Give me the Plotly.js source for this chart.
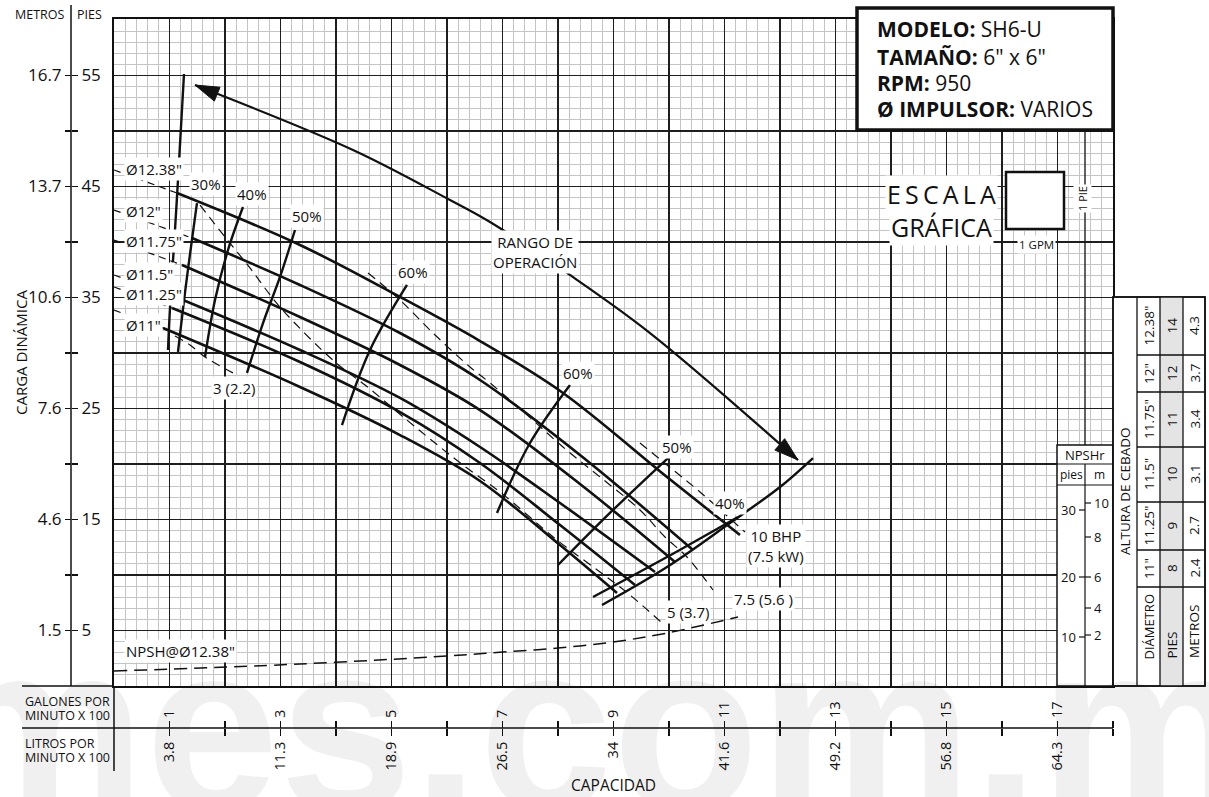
<!DOCTYPE html>
<html>
<head>
<meta charset="utf-8">
<script src="https://cdn.plot.ly/plotly-3.0.1.min.js"></script>
<style>
html,body{margin:0;padding:0;background:#fff;}
#chart{width:1209px;height:797px;}
</style>
</head>
<body>
<div id="chart"></div>
<script>
// ===== DATA (capacity in hundreds of US GPM, head in feet) =====
const diamLabels = ['Ø12.38"','Ø12"','Ø11.75"','Ø11.5"','Ø11.25"','Ø11"'];
// head-capacity curves (first segment, from shut-off, is dashed)
const q1238 = [0, 1.135, 3.351, 5.153, 6.595, 8.090, 9.964, 11.279];
const h1238 = [46.49, 44.41, 39.73, 35.05, 31.08, 26.40, 18.83, 13.60];
const q1200 = [0, 1.405, 3.351, 5.153, 6.595, 8.396, 10.432];
const h1200 = [42.88, 40.36, 36.13, 31.80, 27.57, 20.81, 12.25];
const q1175 = [0, 1.225, 3.351, 5.153, 6.595, 8.396, 10.108];
const h1175 = [40.18, 37.93, 33.24, 28.92, 24.86, 18.20, 11.17];
const q1150 = [0, 1.243, 3.351, 5.153, 6.595, 8.036, 9.748];
const h1150 = [37.03, 34.77, 30.27, 25.95, 21.53, 16.49, 10.27];
const q1125 = [0, 1.045, 3.351, 5.153, 6.595, 8.036, 9.387];
const h1125 = [35.95, 34.05, 29.19, 24.68, 20.09, 14.50, 9.10];
const q1100 = [0, 0.883, 3.351, 5.153, 6.595, 8.036, 9.063];
const h1100 = [33.87, 32.25, 26.94, 22.61, 18.47, 12.70, 8.38];

// minimum-flow limit line
const minFlowQ = [1.261, 1.153, 1.099, 1.009, 0.973];
const minFlowH = [55.14, 45.59, 41.08, 34.05, 30.27];
// efficiency iso-lines
const eff30Q = [1.495, 1.297, 1.153];           const eff30H = [43.51, 36.13, 30.09];
const eff40aQ = [2.324, 2.054, 1.820, 1.640];   const eff40aH = [43.15, 39.28, 34.77, 29.64];
const eff50aQ = [3.261, 2.991, 2.685, 2.396];   const eff50aH = [41.08, 36.85, 32.70, 28.20];
const eff60aQ = [5.279, 4.613, 4.108];          const eff60aH = [36.13, 30.27, 23.51];
const eff60bQ = [8.216, 7.495, 6.901];          const eff60bH = [27.12, 21.89, 15.59];
const eff50bQ = [9.982, 8.991, 8.0];            const eff50bH = [20.54, 15.86, 10.90];
const eff40bQ = [8.631, 9.964, 11.243];         const eff40bH = [8.02, 11.62, 15.23];
// end-of-curve (right limit of operating range)
const endQ = [8.793, 9.964, 11.099, 12.0, 12.595];
const endH = [7.30, 10.72, 14.68, 17.93, 20.54];
// brake horsepower lines
const bhp3Q = [1.099, 1.369, 1.640, 2.180];
const bhp3H = [31.53, 30.72, 29.64, 28.11];
const bhp5Q = [1.550, 2.0, 2.450, 2.991, 3.982, 4.523, 5.279, 5.874, 6.360, 6.955, 7.982, 8.757, 9.297, 9.874];
const bhp5H = [43.33, 40.45, 37.66, 34.14, 29.19, 27.12, 23.96, 21.53, 19.64, 17.48, 13.15, 10.27, 8.20, 5.68];
const bhp75Q = [4.577, 5.153, 5.748, 6.414, 6.775, 7.405, 8.090, 8.757, 9.477, 9.928, 10.324, 10.793];
const bhp75H = [37.21, 34.77, 31.80, 28.74, 27.30, 24.59, 21.53, 18.83, 15.86, 13.42, 11.62, 8.65];
const bhp10Q = [9.477, 9.964, 10.559, 11.369];
const bhp10H = [21.89, 19.91, 17.48, 13.87];
// NPSH required @ Ø12.38"
const npshQ = [0, 3.351, 6.0, 7.009, 8.0, 8.991, 9.964, 11.243];
const npshH = [1.35, 1.98, 2.70, 3.06, 3.42, 3.96, 4.77, 6.22];
// "rango de operación" arrow path
const rangoQ = [1.459, 4.306, 6.054, 6.775, 8.162, 9.658, 12.324];
const rangoH = [54.14, 48.29, 43.78, 41.80, 37.21, 31.80, 20.36];

// axis tick labels
const gpmTicks = [1,2,3,4,5,6,7,8,9,10,11,12,13,14,15,16,17,18];
const gpmText  = ['1','','3','','5','','7','','9','','11','','13','','15','','17',''];
const lpmText  = ['3.8','','11.3','','18.9','','26.5','','34','','41.6','','49.2','','56.8','','64.3',''];
const headTicks = [5,10,15,20,25,30,35,40,45,50,55];
const metrosText = ['1.5','','4.6','','7.6','','10.6','','13.7','','16.7'];
const piesText   = ['5','','15','','25','','35','','45','','55'];
// priming height table
const tblDiam   = ['12.38"','12"','11.75"','11.5"','11.25"','11"'];
const tblPies   = ['14','12','11','10','9','8'];
const tblMetros = ['4.3','3.7','3.4','3.1','2.7','2.4'];
// NPSHr side scale
const npshrFtTicks = [10,20,30];
const npshrMTicks  = [2,4,6,8,10];
// model box
const modelKeys = ['MODELO:','TAMAÑO:','RPM:','Ø IMPULSOR:'];
const modelVals = ['SH6-U','6" x 6"','950','VARIOS'];

// ===== GEOMETRY / STYLE =====
const W = 1209, H = 797;
const L = 114, R = 1113, T = 19, B = 686;
const XMAX = 18, YMAX = (B - T) / 11.1;
const sx = (R - L) / XMAX, sy = (B - T) / YMAX;
const FONT = 'Open Sans, sans-serif';
const INK = '#111';

const traces = [];
function addLine(q, h, w, dash, shape) {
  traces.push({x: q, y: h, mode: 'lines', hoverinfo: 'skip', showlegend: false,
    line: {color: INK, width: w, dash: dash || 'solid', shape: shape || 'spline', smoothing: 1.0}});
}
[[q1238,h1238],[q1200,h1200],[q1175,h1175],[q1150,h1150],[q1125,h1125],[q1100,h1100]].forEach(([q,h]) => {
  addLine(q.slice(0,2), h.slice(0,2), 1.2, '7px,5px', 'linear');
  addLine(q.slice(1), h.slice(1), 2.6);
});
addLine(minFlowQ, minFlowH, 2.4);
[[eff30Q,eff30H],[eff40aQ,eff40aH],[eff50aQ,eff50aH],[eff60aQ,eff60aH],[eff60bQ,eff60bH],[eff50bQ,eff50bH],[eff40bQ,eff40bH]]
  .forEach(([q,h]) => addLine(q, h, 2.4));
addLine(endQ, endH, 2.4);
[[bhp3Q,bhp3H],[bhp5Q,bhp5H],[bhp75Q,bhp75H],[bhp10Q,bhp10H]].forEach(([q,h]) => addLine(q, h, 1.2, '9px,6px'));
addLine(npshQ, npshH, 1.5, '13px,7px');
addLine(rangoQ, rangoH, 2.2);
// dummy traces so the extra axes are drawn
traces.push({x:[null], y:[null], xaxis:'x2', yaxis:'y', mode:'markers', hoverinfo:'skip', showlegend:false});
traces.push({x:[null], y:[null], xaxis:'x3', yaxis:'y', mode:'markers', hoverinfo:'skip', showlegend:false});
traces.push({x:[null], y:[null], xaxis:'x', yaxis:'y2', mode:'markers', hoverinfo:'skip', showlegend:false});
traces.push({x:[null], y:[null], xaxis:'x', yaxis:'y3', mode:'markers', hoverinfo:'skip', showlegend:false});

// ===== helpers (positions only) =====
const px2pX = px => px / W;
const py2pY = py => 1 - py / H;
function P(text, px, py, o) {
  o = o || {};
  const font = Object.assign({size: 15, family: FONT, color: INK}, o.font || {});
  const a = Object.assign({xref:'paper', yref:'paper', x: px2pX(px), y: py2pY(py), text: text,
    showarrow: false, xanchor: 'center', yanchor: 'middle'}, o);
  a.font = font;
  return a;
}
const WB = {bgcolor: '#fff', borderpad: 1};
function lineP(x0, y0, x1, y1, w, c) {
  return {type:'line', xref:'paper', yref:'paper', x0:px2pX(x0), y0:py2pY(y0), x1:px2pX(x1), y1:py2pY(y1),
    line:{color: c || INK, width: w || 1.5}, layer:'above'};
}
function rectP(x0, y0, x1, y1, fill, w) {
  return {type:'rect', xref:'paper', yref:'paper', x0:px2pX(x0), y0:py2pY(y0), x1:px2pX(x1), y1:py2pY(y1),
    fillcolor: fill, line:{color: INK, width: w === undefined ? 1.5 : w}, layer:'above'};
}
function arrowHead(q0, h0, q1, h1, len, half) {
  const X0 = L + q0*sx, Y0 = B - h0*sy, X1 = L + q1*sx, Y1 = B - h1*sy;
  const d = Math.hypot(X1-X0, Y1-Y0), ux = (X1-X0)/d, uy = (Y1-Y0)/d;
  const bx = X1 - ux*len, by = Y1 - uy*len;
  const pts = [[X1,Y1],[bx - uy*half, by + ux*half],[bx + uy*half, by - ux*half]];
  const path = pts.map((p,i) => (i ? 'L' : 'M') + ((p[0]-L)/sx).toFixed(4) + ',' + ((B-p[1])/sy).toFixed(4)).join(' ') + ' Z';
  return {type:'path', xref:'x', yref:'y', path: path, fillcolor: INK, line:{color: INK, width: 1}, layer:'above'};
}

// ===== SHAPES =====
const shapes = [];
shapes.push(arrowHead(rangoQ[1], rangoH[1], rangoQ[0], rangoH[0], 24, 7.5));
const nR = rangoQ.length;
shapes.push(arrowHead(rangoQ[nR-2], rangoH[nR-2], rangoQ[nR-1], rangoH[nR-1], 24, 7.5));
// left head axis line, bottom capacity frame
shapes.push(lineP(71, 5, 71, 686, 1.5));
shapes.push(lineP(22, 686, 114, 686, 1.5));
shapes.push(lineP(22, 728, 1113, 728, 1.5));
shapes.push(lineP(114, 686, 114, 771, 1.5));
// divider line of the NPSHr column above its block
shapes.push(lineP(1085, 130, 1085, 445, 1.4, '#1e1e1e'));
// NPSHr scale block
shapes.push(rectP(1057, 445, 1113, 686, '#fff', 1.5));
shapes.push(lineP(1057, 464, 1113, 464, 1.2));
shapes.push(lineP(1057, 485, 1113, 485, 1.2));
shapes.push(lineP(1085, 464, 1085, 686, 1.2));
const ftPos = {10: 637, 20: 577, 30: 510};
const mPos  = {2: 635, 4: 608, 6: 577, 8: 537, 10: 503};
npshrFtTicks.forEach(v => shapes.push(lineP(1079, ftPos[v], 1085, ftPos[v], 1.2)));
npshrMTicks.forEach(v => shapes.push(lineP(1085, mPos[v], 1091, mPos[v], 1.2)));
// priming-height table
const colX = [1113, 1137, 1160, 1183, 1205];
const rowY = [297, 355, 392, 447, 502, 550, 587, 686];
shapes.push(rectP(1113, 297, 1205, 686, '#fff', 1.5));
shapes.push(rectP(1160, 297, 1183, 686, '#e4e4e4', 0));
colX.slice(1, 4).forEach(x => shapes.push(lineP(x, 297, x, 686, 1.3)));
rowY.slice(1, -1).forEach(y => shapes.push(lineP(1137, y, 1205, y, 1.3)));
shapes.push(rectP(1113, 297, 1205, 686, 'rgba(0,0,0,0)', 1.5));
// model box and graphic scale square
shapes.push(rectP(857, 8, 1113, 130, '#fff', 3.5));
shapes.push(rectP(1006, 172, 1064, 229, '#fff', 2.5));

// ===== ANNOTATIONS =====
const ann = [];
// watermark
ann.push(P('mes.com.mx', -70, 591, {xanchor:'left', yanchor:'top',
  font:{size:240, family:'Liberation Sans, Arial, sans-serif', color:'rgba(0,0,0,0.06)', weight:700}}));
// diameter labels
const diamY = [169, 211, 241, 274, 294, 325];
diamLabels.forEach((t, i) => ann.push(P(t, 124, diamY[i], Object.assign({xanchor:'left'}, WB))));
// efficiency labels
[['30%',206,184],['40%',252,194],['50%',307,216],['60%',413,272],['60%',578,373],['50%',677,447],['40%',730,503]]
  .forEach(([t,x,y]) => ann.push(P(t, x, y, WB)));
// BHP labels
ann.push(P('3 (2.2)', 234, 388, WB));
ann.push(P('5 (3.7)', 688, 612, WB));
ann.push(P('7.5 (5.6 )', 763, 599, WB));
ann.push(P('10 BHP<br>(7.5 kW)', 776, 546, WB));
ann.push(P('RANGO DE<br>OPERACIÓN', 535, 252, WB));
ann.push(P('NPSH@Ø12.38"', 124, 651, Object.assign({xanchor:'left'}, WB)));
// axis headings
ann.push(P('METROS', 67, 15, {xanchor:'right', font:{size:12.5}}));
ann.push(P('PIES', 75, 15, {xanchor:'left', font:{size:12.5}}));
ann.push(P('CARGA DINÁMICA', 21, 353, {textangle:-90, font:{size:15}}));
ann.push(P('GALONES POR', 23, 701, {xanchor:'left', font:{size:12.5}}));
ann.push(P('MINUTO X 100', 23, 715, {xanchor:'left', font:{size:12.5}}));
ann.push(P('LITROS POR', 23, 743, {xanchor:'left', font:{size:12.5}}));
ann.push(P('MINUTO X 100', 23, 757, {xanchor:'left', font:{size:12.5}}));
ann.push(P('CAPACIDAD', 613, 785, {font:{size:15.5}}));
// model box text
const modelY = [29, 57, 83, 109];
modelKeys.forEach((k, i) => ann.push(P('<b>' + k + '</b> ' + modelVals[i], 875, modelY[i], {xanchor:'left', font:{size:21}})));
// graphic scale
ann.push(P('E\u2009S\u2009C\u2009A\u2009L\u2009A', 941, 194, Object.assign({font:{size:25}}, WB)));
ann.push(P('GRÁFICA', 941, 227, Object.assign({font:{size:25}}, WB)));
ann.push(P('1 PIE', 1082, 199, Object.assign({textangle:-90, font:{size:11}}, WB)));
ann.push(P('1 GPM', 1036, 245, Object.assign({font:{size:11.5}}, WB)));
// NPSHr block text
ann.push(P('NPSHr', 1085, 455, {font:{size:13}}));
ann.push(P('pies', 1071, 474, {font:{size:12}}));
ann.push(P('m', 1099, 474, {font:{size:12}}));
npshrFtTicks.forEach(v => ann.push(P(String(v), 1078, ftPos[v], {xanchor:'right', font:{size:13}})));
npshrMTicks.forEach(v => ann.push(P(String(v), 1092, mPos[v], {xanchor:'left', font:{size:13}})));
// table text
const rowC = rowY.slice(0, -1).map((y, i) => (y + rowY[i+1]) / 2);
ann.push(P('ALTURA DE CEBADO', 1125, 491, {textangle:-90, font:{size:13.5}}));
tblDiam.forEach((t, i) => ann.push(P(t, 1148.5, rowC[i], {textangle:-90, font:{size:13.5}})));
tblPies.forEach((t, i) => ann.push(P(t, 1171.5, rowC[i], {textangle:-90, font:{size:13.5}})));
tblMetros.forEach((t, i) => ann.push(P(t, 1194, rowC[i], {textangle:-90, font:{size:13.5}})));
ann.push(P('DIÁMETRO', 1148.5, 627, {textangle:-90, font:{size:13}}));
ann.push(P('PIES', 1171.5, 645, {textangle:-90, font:{size:13.5}}));
ann.push(P('METROS', 1194, 632, {textangle:-90, font:{size:13.5}}));

// ===== LAYOUT =====
const xdom = [L / W, R / W], ydom = [1 - B / H, 1 - T / H];
const baseGrid = {showgrid:true, gridcolor:'#1e1e1e', gridwidth:1.4, zeroline:false, showticklabels:false,
  ticks:'', showline:true, linecolor:INK, linewidth:2, mirror:true, fixedrange:true};
const layout = {
  width: W, height: H, margin: {l:0, r:0, t:0, b:0},
  paper_bgcolor: '#fff', plot_bgcolor: '#fff', showlegend: false,
  font: {family: FONT, color: INK},
  xaxis: Object.assign({}, baseGrid, {domain: xdom, range: [0, XMAX], tick0: 0, dtick: 1,
    minor: {dtick: 0.2, tick0: 0, showgrid: true, gridcolor: '#c4c4c4', gridwidth: 1, ticks: ''}}),
  yaxis: Object.assign({}, baseGrid, {domain: ydom, range: [0, YMAX], tick0: 0, dtick: 5,
    minor: {dtick: 1, tick0: 0, showgrid: true, gridcolor: '#c4c4c4', gridwidth: 1, ticks: ''}}),
  xaxis2: {overlaying:'x', anchor:'free', position: 1 - 728 / H, side:'top', range:[0, XMAX],
    tickmode:'array', tickvals: gpmTicks, ticktext: gpmText, ticks:'outside', ticklen:7, tickwidth:1.4,
    tickcolor: INK, tickangle:-90, showgrid:false, zeroline:false, showline:false, tickfont:{size:14.5}, fixedrange:true},
  xaxis3: {overlaying:'x', anchor:'free', position: 1 - 728 / H, side:'bottom', range:[0, XMAX],
    tickmode:'array', tickvals: gpmTicks, ticktext: lpmText, ticks:'outside', ticklen:7, tickwidth:1.4,
    tickcolor: INK, tickangle:-90, showgrid:false, zeroline:false, showline:false, tickfont:{size:14.5}, fixedrange:true},
  yaxis2: {overlaying:'y', anchor:'free', position: 71 / W, side:'left', range:[0, YMAX],
    tickmode:'array', tickvals: headTicks, ticktext: metrosText, ticks:'outside', ticklen:6, tickwidth:1.4,
    tickcolor: INK, showgrid:false, zeroline:false, showline:false, tickfont:{size:17}, fixedrange:true},
  yaxis3: {overlaying:'y', anchor:'free', position: 71 / W, side:'right', range:[0, YMAX],
    tickmode:'array', tickvals: headTicks, ticktext: piesText, ticks:'outside', ticklen:6, tickwidth:1.4,
    tickcolor: INK, showgrid:false, zeroline:false, showline:false, tickfont:{size:17}, fixedrange:true},
  shapes: shapes,
  annotations: ann
};

Plotly.newPlot('chart', traces, layout, {staticPlot: true, displayModeBar: false});
</script>
</body>
</html>
